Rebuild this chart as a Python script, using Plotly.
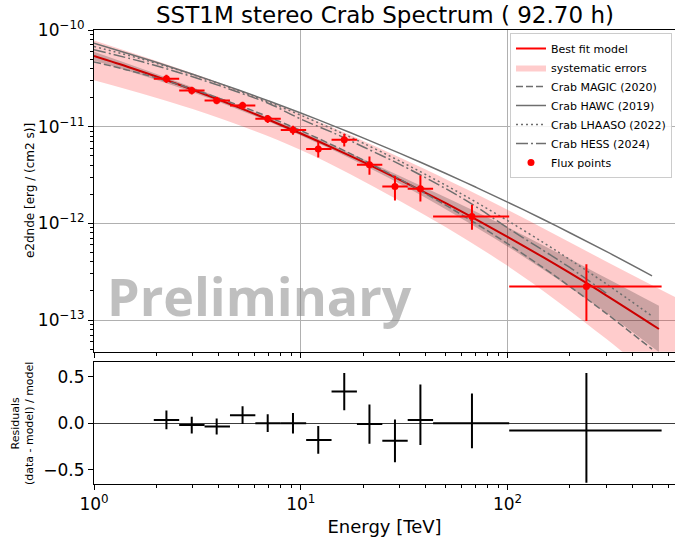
import plotly.graph_objects as go

# ---------------- data ----------------
# flux points
e_center = [2.24, 2.97, 3.92, 5.23, 6.92, 9.17, 12.15, 16.23, 21.49, 28.55, 37.9, 67.3, 240.7]
e_min = [1.946, 2.582, 3.426, 4.546, 6.031, 8.003, 10.62, 14.09, 18.69, 24.80, 32.90, 43.65, 101.9]
e_max = [2.582, 3.426, 4.546, 6.031, 8.003, 10.62, 14.09, 18.69, 24.80, 32.90, 43.65, 101.9, 556.2]
flux = [3.135e-11, 2.373e-11, 1.871e-11, 1.661e-11, 1.21e-11, 9.25e-12, 5.88e-12,
        7.34e-12, 4.05e-12, 2.413e-12, 2.285e-12, 1.181e-12, 2.23e-13]
flux_err_hi = [3.0e-12, 2.2e-12, 1.65e-12, 1.45e-12, 1.15e-12, 1.0e-12, 1.08e-12,
               1.1e-12, 8.6e-13, 6.9e-13, 8.4e-13, 3.8e-13, 1.55e-13]
flux_err_lo = [3.0e-12, 2.2e-12, 1.65e-12, 1.45e-12, 1.15e-12, 1.0e-12, 1.08e-12,
               1.1e-12, 8.6e-13, 6.9e-13, 6.0e-13, 3.2e-13, 1.25e-13]

# residuals (data - model) / model
resid = [0.035, -0.02, -0.036, 0.086, 0.0, 0.0, -0.18, 0.34, -0.01, -0.19, 0.035, 0.0, -0.08]
resid_err_hi = [0.10, 0.09, 0.085, 0.095, 0.095, 0.11, 0.15, 0.20, 0.21, 0.23, 0.38, 0.32, 0.62]
resid_err_lo = [0.10, 0.09, 0.085, 0.095, 0.095, 0.11, 0.15, 0.20, 0.21, 0.23, 0.27, 0.27, 0.56]

# best fit model curve
model_e = [1, 1.5, 2, 3, 5, 7, 10, 15, 20, 30, 50, 70, 100, 150, 200, 300, 540]
model_f = [5.38e-11, 4.07e-11, 3.30e-11, 2.411e-11, 1.582e-11, 1.179e-11, 8.51e-12, 5.77e-12,
           4.33e-12, 2.84e-12, 1.626e-12, 1.107e-12, 7.26e-13, 4.42e-13, 3.07e-13, 1.805e-13, 8.09e-14]

# statistical band around model
stat_e = [1, 3, 10, 30, 100, 300, 540]
stat_hi = [5.97e-11, 2.553e-11, 8.91e-12, 3.11e-12, 9.14e-13, 2.73e-13, 1.406e-13]
stat_lo = [4.85e-11, 2.275e-11, 8.13e-12, 2.588e-12, 5.77e-13, 1.191e-13, 4.66e-14]

# systematic band
sys_e = [1, 3, 10, 30, 100, 300, 700]
sys_hi = [7.78e-11, 3.56e-11, 1.349e-11, 4.82e-12, 1.384e-12, 4.04e-13, 1.585e-13]
sys_lo = [3.03e-11, 1.52e-11, 5.75e-12, 1.71e-12, 3.64e-13, 6.4e-14, 1.41e-14]

# reference Crab spectra
ref_e = [1, 1.5, 2, 3, 5, 7, 10, 15, 20, 30, 50, 70, 100, 150, 200, 300, 500]
magic_f = [4.68e-11, 3.79e-11, 3.20e-11, 2.447e-11, 1.668e-11, 1.259e-11, 9.12e-12, 6.13e-12,
           4.53e-12, 2.878e-12, 1.551e-12, 1.003e-12, 6.17e-13, 3.44e-13, 2.228e-13, 1.174e-13, 5.00e-14]
hawc_f = [7.28e-11, 5.62e-11, 4.64e-11, 3.49e-11, 2.394e-11, 1.845e-11, 1.384e-11, 9.85e-12,
          7.67e-12, 5.33e-12, 3.30e-12, 2.377e-12, 1.661e-12, 1.090e-12, 8.01e-13, 5.13e-13, 2.87e-13]
lhaaso_f = [6.75e-11, 5.39e-11, 4.52e-11, 3.45e-11, 2.359e-11, 1.794e-11, 1.315e-11, 9.01e-12,
            6.77e-12, 4.43e-12, 2.494e-12, 1.670e-12, 1.069e-12, 6.28e-13, 4.23e-13, 2.372e-13, 1.100e-13]
hess_e = [1, 1.5, 2, 3, 5, 7, 10, 15, 20, 30, 50, 70, 100, 150, 200, 300]
hess_f = [6.25e-11, 5.05e-11, 4.27e-11, 3.28e-11, 2.27e-11, 1.74e-11, 1.20e-11, 8.3e-12,
          6.2e-12, 4.1e-12, 2.3e-12, 1.5e-12, 9.0e-13, 5.2e-13, 3.5e-13, 1.9e-13]

x_ticks = [1, 10, 100]
x_ticktext = ["10<sup>0</sup>", "10<sup>1</sup>", "10<sup>2</sup>"]
y_ticks = [1e-13, 1e-12, 1e-11, 1e-10]
y_ticktext = ["10<sup>\u221213</sup>", "10<sup>\u221212</sup>", "10<sup>\u221211</sup>", "10<sup>\u221210</sup>"]
r_ticks = [-0.5, 0.0, 0.5]
r_ticktext = ["\u22120.5", "0.0", "0.5"]

# ---------------- figure ----------------
FONT = "DejaVu Sans"
GRAY = "rgb(110,110,110)"
fig = go.Figure()

xe_plus = [b - a for a, b in zip(e_center, e_max)]
xe_minus = [a - b for a, b in zip(e_center, e_min)]

# systematic band
fig.add_trace(go.Scatter(x=sys_e, y=sys_lo, mode="lines", line=dict(width=0, shape="spline"),
                         showlegend=False, hoverinfo="skip", xaxis="x", yaxis="y"))
fig.add_trace(go.Scatter(x=sys_e, y=sys_hi, mode="lines", line=dict(width=0, shape="spline"),
                         fill="tonexty", fillcolor="rgba(255,0,0,0.2)", name="systematic errors",
                         legendrank=2, xaxis="x", yaxis="y"))
# best fit
fig.add_trace(go.Scatter(x=model_e, y=model_f, mode="lines", line=dict(color="red", width=2, shape="spline"),
                         name="Best fit model", legendrank=1, xaxis="x", yaxis="y"))
# stat band
fig.add_trace(go.Scatter(x=stat_e, y=stat_lo, mode="lines", line=dict(width=0, shape="spline"),
                         showlegend=False, hoverinfo="skip", xaxis="x", yaxis="y"))
fig.add_trace(go.Scatter(x=stat_e, y=stat_hi, mode="lines", line=dict(width=0, shape="spline"),
                         fill="tonexty", fillcolor="rgba(0,0,0,0.2)", showlegend=False,
                         xaxis="x", yaxis="y"))
# reference spectra
fig.add_trace(go.Scatter(x=ref_e, y=magic_f, mode="lines",
                         line=dict(color=GRAY, width=1.5, dash="7px,3px", shape="spline"),
                         name="Crab MAGIC (2020)", legendrank=3, xaxis="x", yaxis="y"))
fig.add_trace(go.Scatter(x=ref_e, y=hawc_f, mode="lines",
                         line=dict(color=GRAY, width=1.5, shape="spline"),
                         name="Crab HAWC (2019)", legendrank=4, xaxis="x", yaxis="y"))
fig.add_trace(go.Scatter(x=ref_e, y=lhaaso_f, mode="lines",
                         line=dict(color=GRAY, width=1.5, dash="2px,3px", shape="spline"),
                         name="Crab LHAASO (2022)", legendrank=5, xaxis="x", yaxis="y"))
fig.add_trace(go.Scatter(x=hess_e, y=hess_f, mode="lines",
                         line=dict(color=GRAY, width=1.5, dash="12px,3px,2px,3px", shape="spline"),
                         name="Crab HESS (2024)", legendrank=6, xaxis="x", yaxis="y"))
# flux points
fig.add_trace(go.Scatter(x=e_center, y=flux, mode="markers",
                         marker=dict(color="red", size=7),
                         error_x=dict(type="data", symmetric=False, array=xe_plus, arrayminus=xe_minus,
                                      color="red", thickness=2, width=0),
                         error_y=dict(type="data", symmetric=False, array=flux_err_hi, arrayminus=flux_err_lo,
                                      color="red", thickness=2, width=0),
                         name="Flux points", legendrank=7, xaxis="x", yaxis="y"))
# residuals
fig.add_trace(go.Scatter(x=e_center, y=resid, mode="markers",
                         marker=dict(color="black", size=1),
                         error_x=dict(type="data", symmetric=False, array=xe_plus, arrayminus=xe_minus,
                                      color="black", thickness=2, width=0),
                         error_y=dict(type="data", symmetric=False, array=resid_err_hi, arrayminus=resid_err_lo,
                                      color="black", thickness=2, width=0),
                         showlegend=False, xaxis="x2", yaxis="y2"))

x_minor = [k * 10 ** d for d in (0, 1, 2) for k in range(2, 10)]
y_minor = [k * 10.0 ** d for d in (-14, -13, -12, -11) for k in range(2, 10)]

XR = [0, 2.81]
common_x = dict(type="log", range=XR, showline=True, linecolor="black", linewidth=1, mirror=True,
                ticks="outside", ticklen=5, tickcolor="black", tickvals=x_ticks,
                minor=dict(tickvals=x_minor, ticks="outside", ticklen=2.8, tickcolor="black", showgrid=False),
                zeroline=False)

fig.update_layout(
    width=675, height=545,
    margin=dict(l=94, r=0, t=30, b=61, autoexpand=False),
    paper_bgcolor="white", plot_bgcolor="white",
    font=dict(family=FONT, size=17, color="black"),
    xaxis=dict(common_x, anchor="y", showticklabels=False, showgrid=True,
               gridcolor="rgb(176,176,176)", gridwidth=1),
    yaxis=dict(type="log", domain=[0.2914, 1.0], range=[-13.327, -10.0], anchor="x",
               showline=True, linecolor="black", linewidth=1, mirror=False,
               ticks="outside", ticklen=5, tickcolor="black",
               tickvals=y_ticks, ticktext=y_ticktext,
               minor=dict(tickvals=y_minor, ticks="outside", ticklen=2.8, tickcolor="black", showgrid=False),
               showgrid=True, gridcolor="rgb(176,176,176)", gridwidth=1, zeroline=False),
    xaxis2=dict(common_x, anchor="y2", matches="x", ticktext=x_ticktext, showgrid=False,
                title=dict(text="Energy [TeV]", font=dict(size=18), standoff=6)),
    yaxis2=dict(domain=[0.0, 0.268], range=[-0.654, 0.654], anchor="x2",
                showline=True, linecolor="black", linewidth=1, mirror=False,
                ticks="outside", ticklen=5, tickcolor="black",
                tickvals=r_ticks, ticktext=r_ticktext, showgrid=False,
                zeroline=True, zerolinecolor="rgb(60,60,60)", zerolinewidth=1),
    legend=dict(x=0.716, y=0.9934, xanchor="left", yanchor="top", traceorder="normal",
                bgcolor="rgba(255,255,255,0.85)", bordercolor="rgb(204,204,204)", borderwidth=1,
                font=dict(size=11, family=FONT)),
    showlegend=True,
)

fig.add_annotation(text="SST1M stereo Crab Spectrum ( 92.70 h)", xref="paper", yref="paper",
                   x=0.5, y=1.0, yshift=15, xanchor="center", yanchor="middle", showarrow=False,
                   font=dict(size=23, family=FONT))
fig.add_annotation(text="e2dnde [erg / (cm2 s)]", xref="paper", yref="paper",
                   x=-0.110, y=0.6454, textangle=-90, xanchor="center", yanchor="middle",
                   showarrow=False, font=dict(size=12, family=FONT))
fig.add_annotation(text="Residuals<br>(data - model) / model", xref="paper", yref="paper",
                   x=-0.124, y=0.134, textangle=-90, xanchor="center", yanchor="middle",
                   showarrow=False, font=dict(size=11, family=FONT))
fig.add_annotation(text="<b>Preliminary</b>", xref="paper", yref="paper",
                   x=0.284, y=0.415, xanchor="center", yanchor="middle", showarrow=False,
                   font=dict(size=52, family="Open Sans", color="rgba(128,128,128,0.5)"))

fig.write_html("out.html")
